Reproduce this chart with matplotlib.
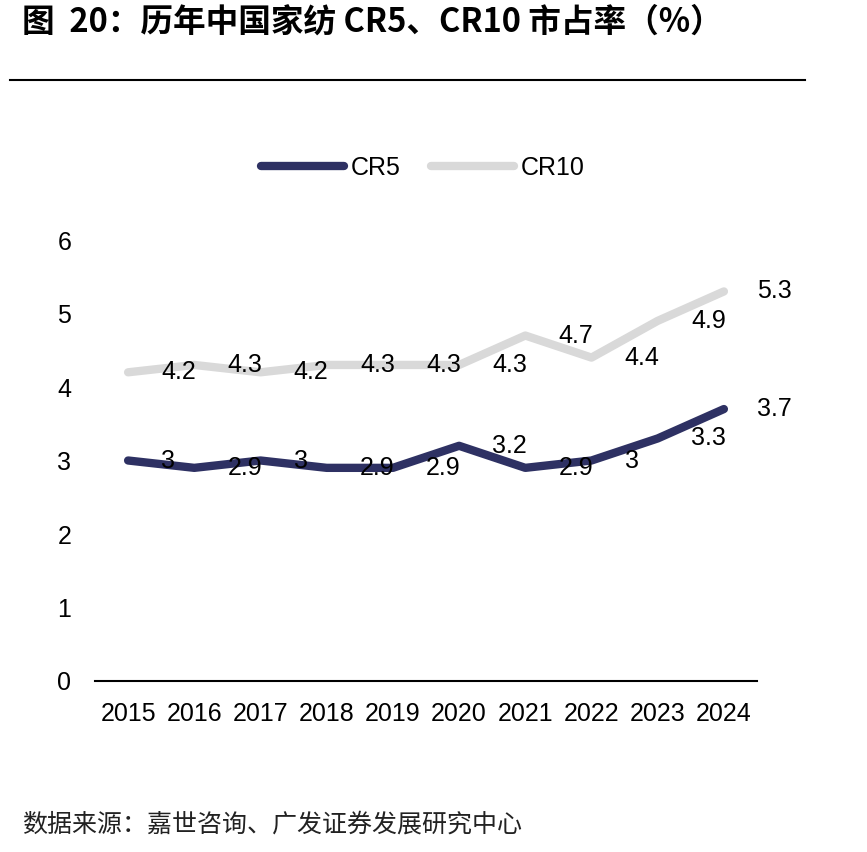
#!/usr/bin/env python3

import matplotlib
matplotlib.use('Agg')
import matplotlib.pyplot as plt
from matplotlib.lines import Line2D

plt.rcParams['font.family'] = ['Liberation Sans', 'Noto Sans CJK SC', 'DejaVu Sans']

years = ['2015', '2016', '2017', '2018', '2019', '2020', '2021', '2022', '2023', '2024']
cr5 = [3, 2.9, 3, 2.9, 2.9, 3.2, 2.9, 3, 3.3, 3.7]
cr10 = [4.2, 4.3, 4.2, 4.3, 4.3, 4.3, 4.7, 4.4, 4.9, 5.3]

CR5_COLOR = '#2E3163'
CR10_COLOR = '#D9D9D9'

fig = plt.figure(figsize=(8.67, 8.52), dpi=100)
ax = fig.add_axes([95 / 867, 1 - 681 / 852, (757 - 95) / 867, (681 - 240) / 852])

x = list(range(len(years)))
ax.plot(x, cr10, color=CR10_COLOR, lw=6, solid_capstyle='round', solid_joinstyle='round')
ax.plot(x, cr5, color=CR5_COLOR, lw=6, solid_capstyle='round', solid_joinstyle='round')

# data labels to the right of each point, Excel style
for series in (cr10, cr5):
    for xi, v in zip(x, series):
        ax.annotate('{:g}'.format(v), xy=(xi, v), xytext=(24, 0),
                    textcoords='offset points', ha='left', va='center',
                    fontsize=18, color='black')

ax.set_xlim(-0.5, len(years) - 0.5)
ax.set_ylim(0, 6)
ax.set_yticks(range(0, 7))
ax.set_xticks(x)
ax.set_xticklabels(years)
ax.tick_params(axis='both', length=0, labelsize=18, colors='black')
ax.tick_params(axis='y', pad=17)
ax.tick_params(axis='x', pad=15)
for side in ('top', 'right', 'left'):
    ax.spines[side].set_visible(False)
ax.spines['bottom'].set_linewidth(1.5)
ax.spines['bottom'].set_color('black')

handles = [Line2D([0], [0], color=CR5_COLOR, lw=6, solid_capstyle='round'),
           Line2D([0], [0], color=CR10_COLOR, lw=6, solid_capstyle='round')]
fig.legend(handles, ['CR5', 'CR10'], loc='center', bbox_to_anchor=(423 / 867, 1 - 168 / 852),
           ncol=2, frameon=False, fontsize=18, handlelength=3.3, handletextpad=0.3,
           columnspacing=1.2)

fig.text(22 / 867, 1 - 22 / 852, '图  20：历年中国家纺 CR5、CR10 市占率（%）',
         fontsize=23.5, fontweight='bold', family=['Noto Sans CJK SC', 'DejaVu Sans'],
         ha='left', va='center')
fig.add_artist(Line2D([10 / 867, 805 / 867], [1 - 80 / 852, 1 - 80 / 852],
                      color='black', lw=1.5, transform=fig.transFigure))
fig.text(22 / 867, 1 - 825 / 852, '数据来源：嘉世咨询、广发证券发展研究中心',
         fontsize=18, family=['Noto Sans CJK SC', 'DejaVu Sans'],
         ha='left', va='center', color='#222222')

fig.savefig('out.png', dpi=100)
